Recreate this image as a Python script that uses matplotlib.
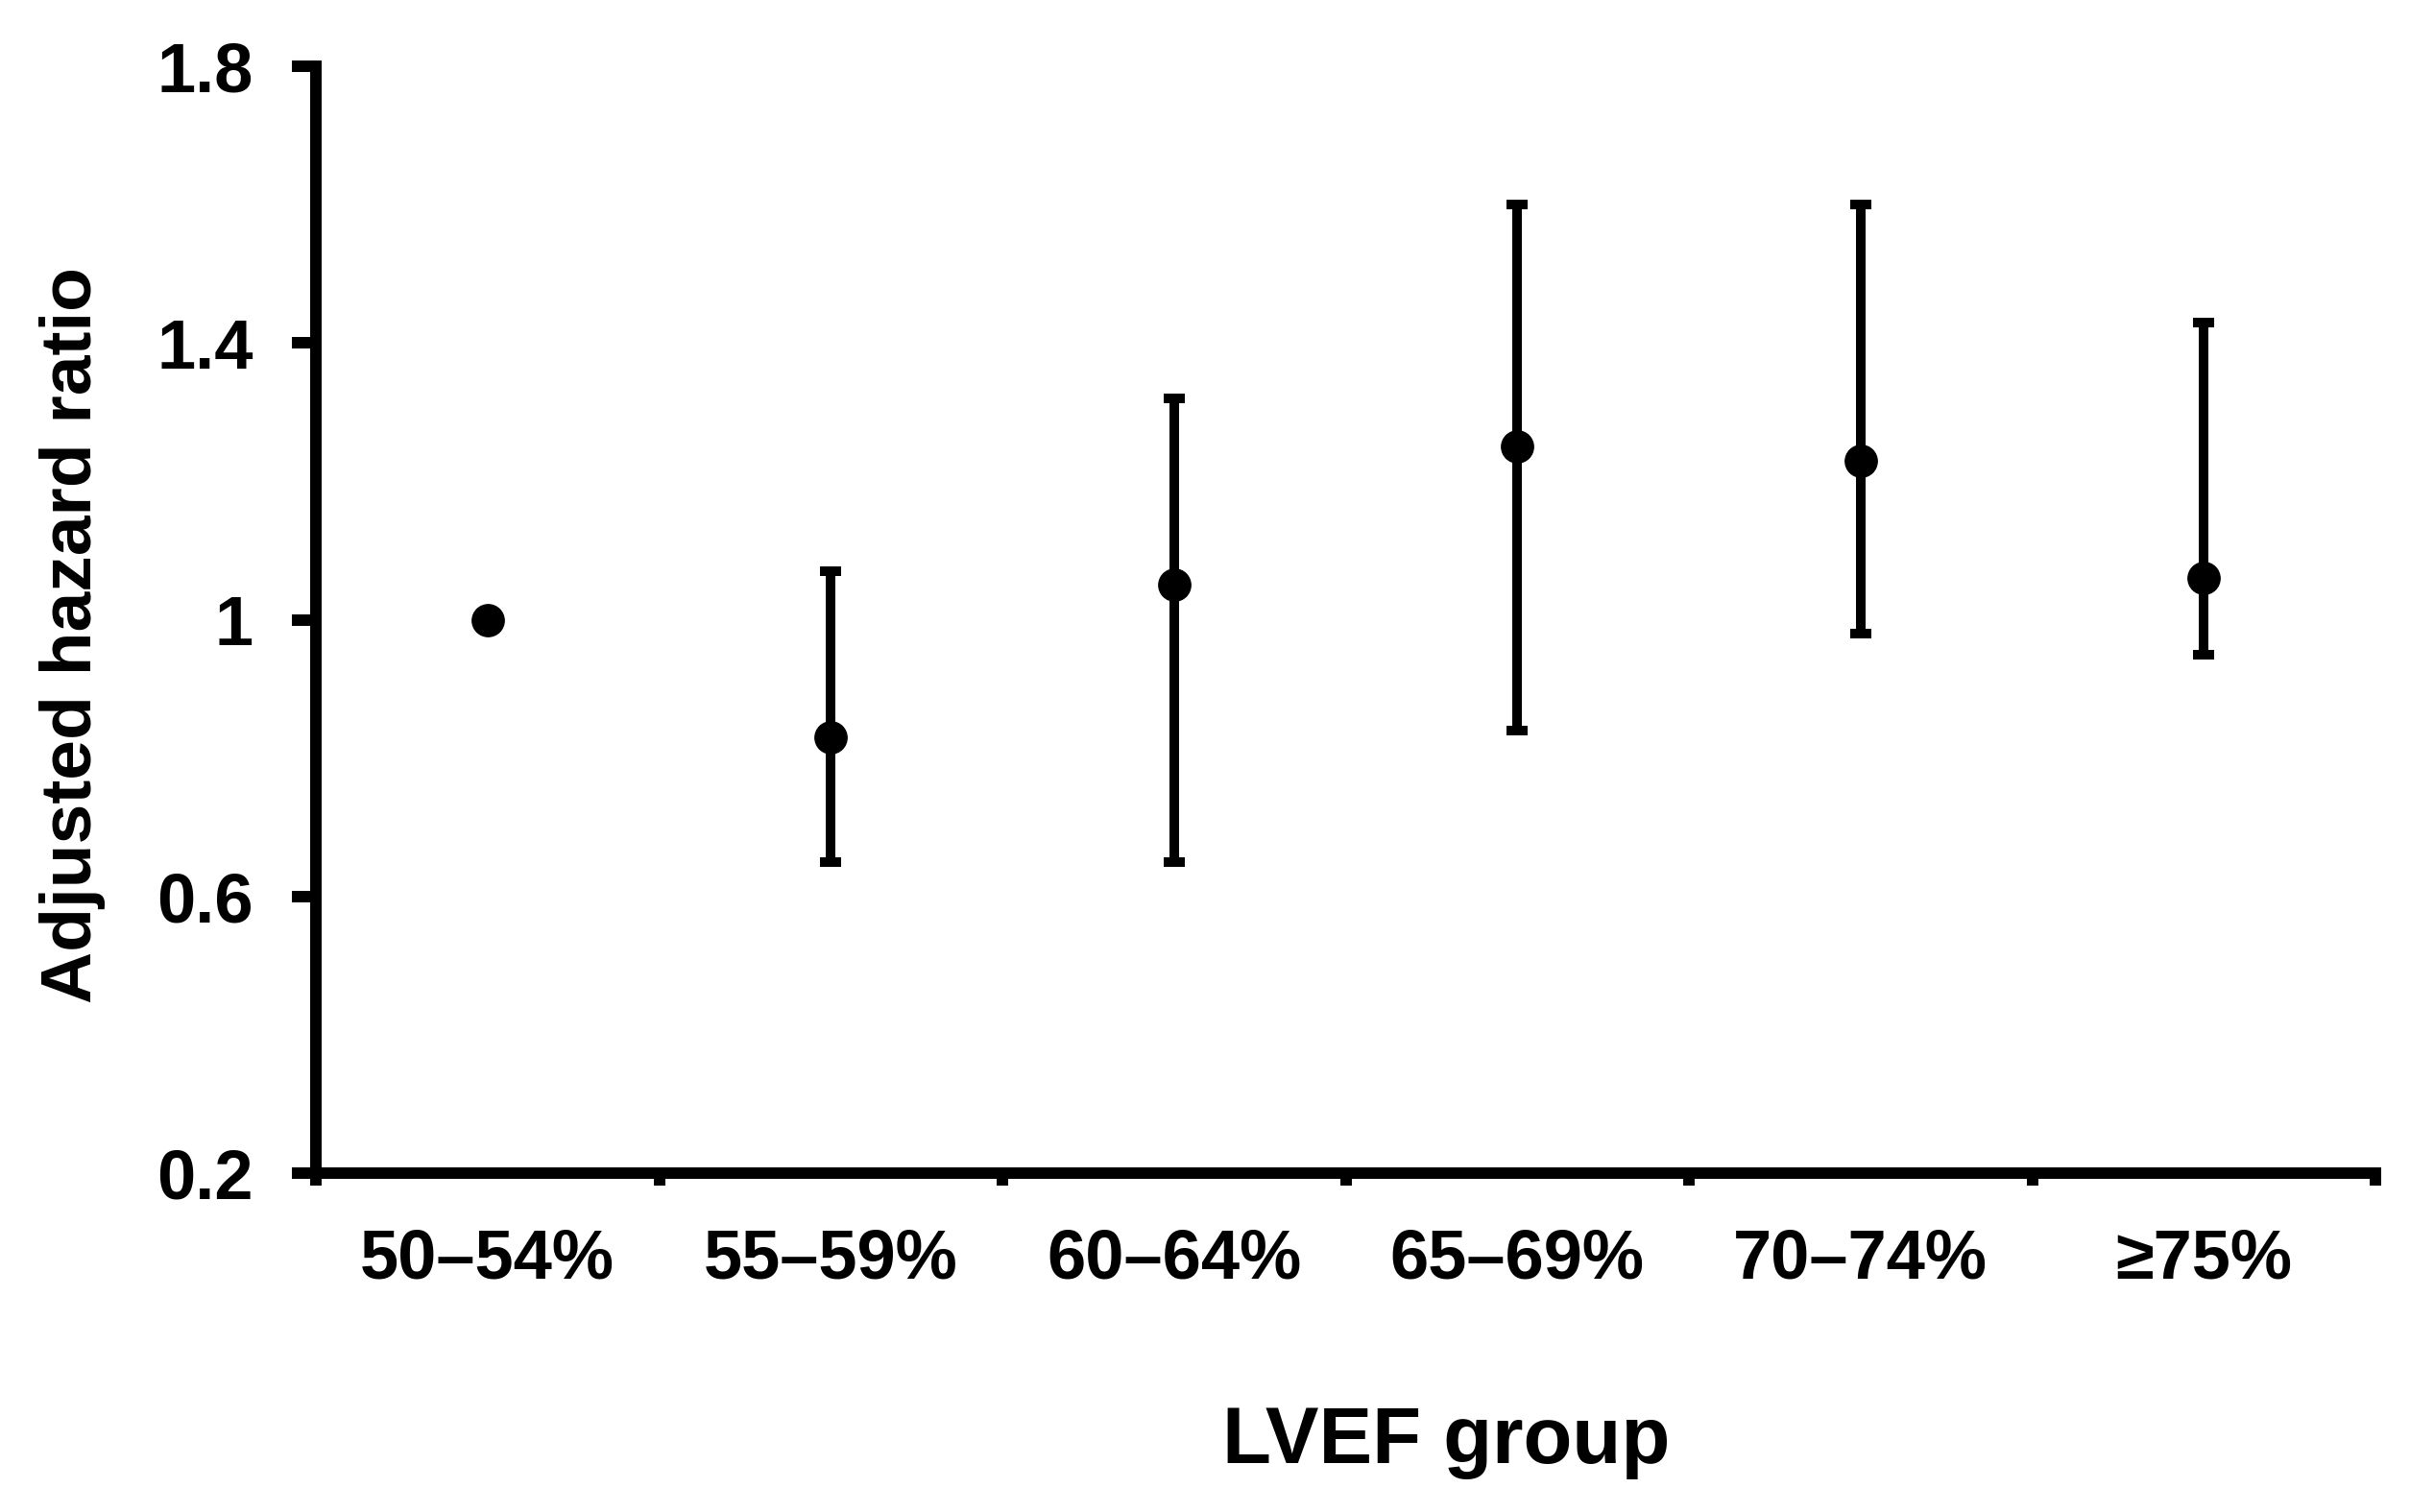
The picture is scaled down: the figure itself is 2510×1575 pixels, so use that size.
import numpy as np
import matplotlib
matplotlib.use("Agg")
import matplotlib.pyplot as plt
from matplotlib.ticker import FixedLocator

plt.rcParams['font.family'] = ['Liberation Sans', 'DejaVu Sans']
plt.rcParams['font.weight'] = 'bold'

groups = ['50–54%', '55–59%', '60–64%', '65–69%', '70–74%', '≥75%']
hr = [1.00, 0.83, 1.05, 1.25, 1.23, 1.06]
ci_low = [np.nan, 0.65, 0.65, 0.84, 0.98, 0.95]
ci_high = [np.nan, 1.07, 1.32, 1.60, 1.60, 1.43]
yticks = [0.2, 0.6, 1.0, 1.4, 1.8]
ytick_labels = ['0.2', '0.6', '1', '1.4', '1.8']

W, H = 2510, 1575
fig = plt.figure(figsize=(W / 100, H / 100), dpi=100)
ax = fig.add_axes([329 / W, 1 - 1222 / H, (2474 - 329) / W, (1222 - 69) / H])

x = np.arange(len(groups))
hr = np.array(hr)
lo = np.array(ci_low)
hi = np.array(ci_high)
has_ci = ~np.isnan(lo)

ax.errorbar(x[has_ci], hr[has_ci],
            yerr=[hr[has_ci] - lo[has_ci], hi[has_ci] - hr[has_ci]],
            fmt='none', ecolor='black', elinewidth=7.2, capsize=8, capthick=7.2)
ax.plot(x, hr, 'o', color='black', markersize=24, zorder=3)

ax.set_xlim(-0.5, len(groups) - 0.5)
ax.set_ylim(0.2, 1.8)

# tick marks at group boundaries, labels at centres
ax.xaxis.set_major_locator(FixedLocator(np.arange(len(groups) + 1) - 0.5))
ax.xaxis.set_minor_locator(FixedLocator(x))
ax.set_xticklabels([], minor=False)
ax.set_xticklabels(groups, minor=True)
ax.tick_params(axis='x', which='major', direction='out', length=9.4, width=8.6, color='black')
ax.tick_params(axis='x', which='minor', length=0, pad=41, labelsize=52)

ax.set_yticks(yticks)
ax.set_yticklabels(ytick_labels)
ax.tick_params(axis='y', direction='out', length=18, width=8.6, pad=29, labelsize=52)

for lab in ax.get_xticklabels(minor=True) + ax.get_yticklabels():
    lab.set_fontweight('bold')

for s in ['top', 'right']:
    ax.spines[s].set_visible(False)
for s in ['left', 'bottom']:
    ax.spines[s].set_linewidth(8.6)

fig.text(95 / W, 1 - 662 / H, 'Adjusted hazard ratio', rotation=90, rotation_mode='anchor',
         ha='center', va='baseline', fontsize=54, fontweight='bold')
fig.text(1506 / W, 1 - 1524 / H, 'LVEF group', ha='center', va='baseline',
         fontsize=60, fontweight='bold')

fig.savefig('out.png', dpi=100, facecolor='white')
